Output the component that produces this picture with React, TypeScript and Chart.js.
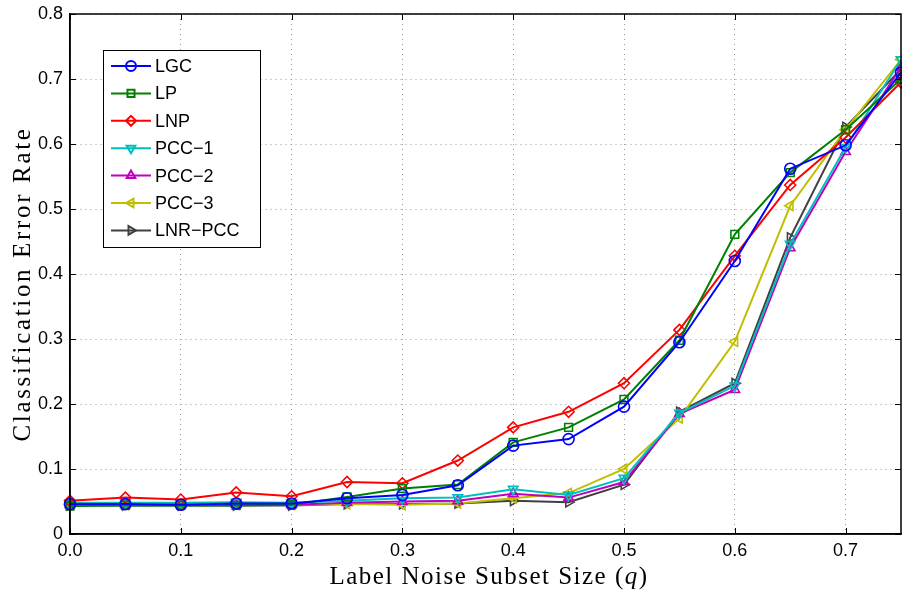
import React, { useEffect, useRef } from "react";
import { Chart, registerables } from "chart.js";
import { drawPoint } from "chart.js/helpers";

Chart.register(...registerables);

const qValues = [0.0, 0.05, 0.1, 0.15, 0.2, 0.25, 0.3, 0.35, 0.4, 0.45, 0.5, 0.55, 0.6, 0.65, 0.7, 0.75];

const lgc = [0.046, 0.046, 0.045, 0.047, 0.047, 0.055, 0.06, 0.075, 0.136, 0.146, 0.196, 0.295, 0.42, 0.562, 0.598, 0.71];
const lp = [0.043, 0.044, 0.044, 0.044, 0.045, 0.057, 0.07, 0.076, 0.141, 0.164, 0.207, 0.298, 0.461, 0.556, 0.622, 0.7];
const lnp = [0.051, 0.056, 0.053, 0.064, 0.058, 0.08, 0.078, 0.113, 0.164, 0.188, 0.232, 0.314, 0.428, 0.537, 0.61, 0.695];
const pcc1 = [0.048, 0.048, 0.048, 0.049, 0.048, 0.051, 0.055, 0.056, 0.069, 0.06, 0.086, 0.186, 0.228, 0.446, 0.595, 0.73];
const pcc2 = [0.045, 0.045, 0.045, 0.045, 0.045, 0.048, 0.05, 0.051, 0.062, 0.056, 0.08, 0.185, 0.222, 0.44, 0.588, 0.718];
const pcc3 = [0.045, 0.045, 0.045, 0.045, 0.045, 0.046, 0.045, 0.047, 0.055, 0.063, 0.1, 0.178, 0.296, 0.505, 0.622, 0.73];
const lnrPcc = [0.044, 0.044, 0.044, 0.044, 0.044, 0.046, 0.046, 0.047, 0.051, 0.049, 0.076, 0.188, 0.232, 0.456, 0.626, 0.715];

const seriesNames = ["LGC", "LP", "LNP", "PCC\u22121", "PCC\u22122", "PCC\u22123", "LNR\u2212PCC"];
const seriesValues = [lgc, lp, lnp, pcc1, pcc2, pcc3, lnrPcc];
const seriesColors = ["#0000ff", "#008000", "#ff0000", "#00bfbf", "#bf00bf", "#bfbf00", "#404040"];
const seriesMarkers = ["circle", "rect", "rectRot", "triangle", "triangle", "triangle", "triangle"];
const seriesRotations = [0, 0, 0, 180, 0, -90, 90];

const xTicks = [0, 0.1, 0.2, 0.3, 0.4, 0.5, 0.6, 0.7];
const yTicks = [0, 0.1, 0.2, 0.3, 0.4, 0.5, 0.6, 0.7, 0.8];

const xTitleParts = ["Label Noise Subset Size (", "q", ")"];
const yTitle = "Classification Error Rate";

const SANS = "'Liberation Sans', Arial, sans-serif";
const SERIF = "'Liberation Serif', 'Times New Roman', serif";

function spacingFor(ctx: any, text: string, font: string, target: number) {
  ctx.font = font;
  (ctx as any).letterSpacing = "0px";
  const w = ctx.measureText(text).width;
  return (target - w) / text.length;
}

const framePlugin = {
  id: "frame",
  afterDatasetsDraw(chart: any) {
    const { ctx, chartArea } = chart;
    const xs = chart.scales.x;
    const ys = chart.scales.y;
    ctx.save();
    ctx.strokeStyle = "#000";
    ctx.lineWidth = 1;
    ctx.beginPath();
    for (const t of xTicks) {
      const px = Math.round(xs.getPixelForValue(t)) + 0.5;
      ctx.moveTo(px, chartArea.bottom);
      ctx.lineTo(px, chartArea.bottom - 6);
      ctx.moveTo(px, chartArea.top);
      ctx.lineTo(px, chartArea.top + 6);
    }
    for (const t of yTicks) {
      const py = Math.round(ys.getPixelForValue(t)) + 0.5;
      ctx.moveTo(chartArea.left, py);
      ctx.lineTo(chartArea.left + 6, py);
      ctx.moveTo(chartArea.right, py);
      ctx.lineTo(chartArea.right - 6, py);
    }
    ctx.stroke();
    ctx.lineWidth = 1.5;
    ctx.strokeRect(chartArea.left, chartArea.top, chartArea.right - chartArea.left, chartArea.bottom - chartArea.top);
    ctx.restore();
  },
  afterDraw(chart: any) {
    const { ctx, chartArea } = chart;
    // axis titles
    ctx.save();
    ctx.fillStyle = "#000";
    ctx.textBaseline = "alphabetic";
    const normalFont = `25px ${SERIF}`;
    const italicFont = `italic 25px ${SERIF}`;
    const fullX = xTitleParts.join("");
    const spX = spacingFor(ctx, fullX, normalFont, 319);
    (ctx as any).letterSpacing = `${spX}px`;
    const widths = xTitleParts.map((p, i) => {
      ctx.font = i === 1 ? italicFont : normalFont;
      return ctx.measureText(p).width;
    });
    const total = widths.reduce((a, b) => a + b, 0);
    let cx = 489 - total / 2;
    ctx.textAlign = "left";
    xTitleParts.forEach((p, i) => {
      ctx.font = i === 1 ? italicFont : normalFont;
      ctx.fillText(p, cx, 584);
      cx += widths[i];
    });
    const spY = spacingFor(ctx, yTitle, normalFont, 315);
    (ctx as any).letterSpacing = `${spY}px`;
    ctx.font = normalFont;
    ctx.translate(30, (chartArea.top + chartArea.bottom) / 2 + 10);
    ctx.rotate(-Math.PI / 2);
    ctx.textAlign = "center";
    ctx.fillText(yTitle, 0, 0);
    ctx.restore();

    // legend
    const x0 = chartArea.left + 33;
    const y0 = chartArea.top + 36;
    const w = 157;
    const h = 197;
    ctx.save();
    ctx.fillStyle = "#fff";
    ctx.fillRect(x0, y0, w, h);
    ctx.strokeStyle = "#000";
    ctx.lineWidth = 1;
    ctx.strokeRect(x0 + 0.5, y0 + 0.5, w, h);
    chart.data.datasets.forEach((ds: any, i: number) => {
      const y = y0 + 16 + i * 27.4;
      ctx.strokeStyle = ds.borderColor;
      ctx.lineWidth = 2;
      ctx.beginPath();
      ctx.moveTo(x0 + 8, y);
      ctx.lineTo(x0 + 48, y);
      ctx.stroke();
      ctx.fillStyle = "rgba(0,0,0,0)";
      drawPoint(ctx, { pointStyle: ds.pointStyle, rotation: ds.pointRotation, radius: 5, borderWidth: 1.5 }, x0 + 28, y);
      ctx.fillStyle = "#000";
      ctx.font = `18px ${SANS}`;
      ctx.textBaseline = "middle";
      ctx.textAlign = "left";
      ctx.fillText(ds.label, x0 + 52, y + 1);
    });
    ctx.restore();
  },
};

export default function App() {
  const ref = useRef<HTMLCanvasElement | null>(null);
  useEffect(() => {
    document.body.style.margin = "0";
    const canvas = ref.current;
    if (!canvas) return;
    const datasets = seriesNames.map((name, i) => ({
      label: name,
      data: qValues.map((q, j) => ({ x: q, y: seriesValues[i][j] })),
      borderColor: seriesColors[i],
      backgroundColor: "rgba(0,0,0,0)",
      pointBackgroundColor: "rgba(0,0,0,0)",
      pointBorderColor: seriesColors[i],
      pointStyle: seriesMarkers[i],
      pointRotation: seriesRotations[i],
      pointRadius: 5.5,
      pointBorderWidth: 1.6,
      borderWidth: 2,
      tension: 0,
      clip: false as any,
    }));
    const chart = new Chart(canvas, {
      type: "line",
      data: { datasets },
      options: {
        animation: false,
        responsive: false,
        maintainAspectRatio: false,
        layout: { autoPadding: false, padding: { left: 0, right: 1, top: 14, bottom: 0 } },
        plugins: { legend: { display: false }, tooltip: { enabled: false } },
        scales: {
          x: {
            type: "linear",
            min: 0,
            max: 0.75,
            afterFit: (s: any) => {
              s.height = 59;
              s.paddingLeft = 0;
              s.paddingRight = 0;
            },
            ticks: {
              stepSize: 0.1,
              includeBounds: false,
              autoSkip: false,
              maxRotation: 0,
              padding: 6,
              color: "#000",
              font: { family: SANS, size: 18 },
              callback: (v: any) => Number(v).toFixed(1),
            },
            grid: { color: "#9a9a9a", lineWidth: 1, drawTicks: false },
            border: { display: true, color: "#000", width: 1.5, dash: [1, 4] },
            title: { display: false },
          },
          y: {
            type: "linear",
            min: 0,
            max: 0.8,
            afterFit: (s: any) => {
              s.width = 70;
              s.paddingTop = 0;
              s.paddingBottom = 0;
            },
            ticks: {
              stepSize: 0.1,
              padding: 7,
              color: "#000",
              font: { family: SANS, size: 18 },
              callback: (v: any) => (Number(v) === 0 ? "0" : Number(v).toFixed(1)),
            },
            grid: { color: "#9a9a9a", lineWidth: 1, drawTicks: false },
            border: { display: true, color: "#000", width: 1.5, dash: [1, 4] },
            title: { display: false },
          },
        },
      },
      plugins: [framePlugin],
    });
    return () => chart.destroy();
  }, []);
  return (
    <div style={{ position: "absolute", left: 0, top: 0, width: 902, height: 593, background: "#fff" }}>
      <canvas ref={ref} width={902} height={593} style={{ display: "block" }} />
    </div>
  );
}
